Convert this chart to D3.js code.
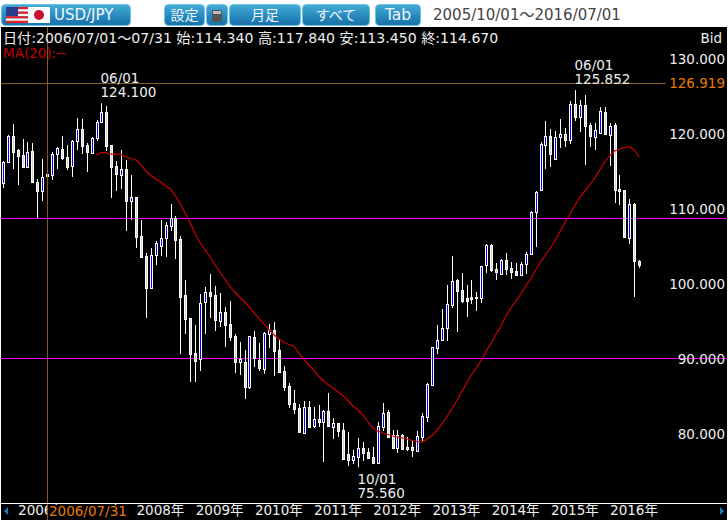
<!DOCTYPE html>
<html>
<head>
<meta charset="utf-8">
<script src="https://d3js.org/d3.v7.min.js"></script>
<style>
    body { margin: 0; background: #fff; }
    text { font-family: "DejaVu Sans", "Noto Sans CJK JP", sans-serif; }
</style>
</head>
<body>
<svg id="chart"></svg>
<script>
// monthly candles 2005/10 - 2016/07
const opens = [113.47, 116.27, 119.73, 117.87, 117.2, 115.6, 117.73, 113.6, 112.4, 114.34,
    114.53, 117.33, 118.0, 116.93, 115.73, 119.07, 120.67, 118.53, 117.47, 119.47,
    121.6, 122.93, 118.53, 115.73, 114.53, 115.33, 111.07, 111.6, 106.4, 103.73,
    99.47, 103.87, 105.07, 106.13, 107.73, 108.8, 106.0, 98.53, 95.47, 90.8,
    90.0, 97.6, 98.93, 98.53, 95.07, 96.27, 94.67, 93.07, 89.6, 89.6,
    86.27, 92.93, 89.87, 88.67, 93.33, 93.87, 91.2, 88.4, 86.4, 84.13,
    83.47, 80.13, 83.6, 81.07, 82.0, 81.6, 83.07, 80.93, 81.47, 80.53,
    77.33, 76.53, 76.93, 78.13, 77.6, 76.93, 76.13, 80.93, 82.93, 79.87,
    78.13, 79.87, 78.27, 78.27, 77.73, 79.6, 82.27, 86.53, 91.47, 92.53,
    94.13, 97.2, 100.53, 99.2, 98.13, 98.27, 98.27, 98.13, 102.53, 105.2,
    102.0, 101.33, 103.2, 102.13, 101.73, 101.2, 102.67, 104.0, 109.6, 112.53,
    118.53, 119.73, 116.67, 119.6, 120.0, 119.2, 124.0, 122.27, 123.87, 121.2,
    119.6, 120.13, 122.93, 119.87, 121.2, 112.67, 112.53, 106.13, 110.67, 103.07];
const highs = [116.4, 119.87, 121.33, 118.0, 119.33, 118.93, 118.8, 114.0, 116.67, 117.84,
    117.6, 118.27, 119.73, 118.53, 119.2, 122.13, 122.0, 118.8, 119.6, 121.87,
    124.1, 123.73, 118.53, 116.4, 117.87, 116.53, 114.53, 111.6, 108.53, 104.13,
    104.8, 105.73, 108.53, 108.27, 110.67, 109.07, 106.4, 100.53, 95.47, 94.53,
    98.67, 99.6, 101.33, 99.73, 98.8, 96.93, 97.73, 93.33, 92.27, 91.2,
    93.07, 93.73, 92.13, 93.6, 94.67, 94.93, 92.67, 89.07, 86.8, 85.87,
    84.0, 84.4, 84.4, 83.6, 83.87, 83.2, 85.47, 82.13, 81.47, 81.47,
    80.27, 77.87, 79.47, 78.93, 78.13, 78.27, 81.6, 84.13, 83.2, 80.53,
    80.53, 80.0, 79.6, 79.2, 80.4, 82.8, 86.8, 91.6, 94.53, 96.67,
    99.87, 103.73, 100.67, 101.47, 99.87, 100.53, 98.93, 102.4, 105.33, 105.33,
    102.8, 103.33, 104.13, 102.93, 102.8, 102.93, 104.27, 109.73, 112.4, 118.93,
    121.73, 120.67, 120.4, 122.0, 120.8, 124.4, 125.852, 124.53, 125.2, 121.47,
    121.47, 123.6, 123.6, 121.47, 121.47, 114.53, 112.53, 111.33, 110.8, 103.2];
const lows = [112.8, 116.13, 115.33, 113.2, 115.47, 115.47, 113.47, 108.8, 111.07, 113.45,
    113.87, 115.33, 116.53, 115.2, 114.27, 117.87, 117.33, 114.93, 117.47, 119.07,
    121.47, 117.73, 111.47, 112.4, 112.67, 107.07, 108.53, 104.8, 103.47, 95.47,
    99.47, 102.53, 103.73, 103.6, 107.07, 103.33, 90.67, 93.33, 86.93, 86.93,
    88.4, 93.33, 95.47, 93.73, 94.27, 91.6, 92.4, 88.13, 87.87, 84.67,
    86.0, 88.93, 88.4, 88.0, 91.47, 87.73, 88.13, 85.73, 83.47, 82.67,
    80.27, 80.13, 80.8, 80.8, 80.93, 76.27, 80.93, 79.33, 79.6, 76.53,
    75.73, 76.0, 75.56, 76.4, 76.67, 76.0, 76.0, 80.4, 79.6, 78.0,
    77.47, 77.87, 77.73, 76.93, 77.6, 79.07, 81.6, 86.4, 90.67, 92.4,
    92.4, 96.8, 93.6, 97.47, 95.6, 97.33, 96.4, 97.47, 101.47, 101.6,
    100.53, 101.2, 101.2, 100.67, 101.07, 101.07, 101.33, 103.87, 104.93, 112.4,
    115.33, 115.6, 116.67, 118.13, 118.27, 118.67, 121.73, 120.27, 115.87, 118.27,
    117.87, 120.13, 119.87, 115.73, 110.8, 110.53, 106.13, 105.33, 98.27, 102.13];
const closes = [116.27, 119.73, 117.6, 117.07, 115.6, 117.6, 113.6, 112.4, 114.27, 114.67,
    117.33, 118.13, 116.8, 115.6, 119.07, 120.67, 118.4, 117.6, 119.47, 121.6,
    122.93, 118.4, 115.6, 114.67, 115.33, 111.07, 111.6, 106.27, 103.6, 99.47,
    103.87, 105.47, 106.13, 107.87, 108.8, 105.87, 98.27, 95.33, 90.67, 89.73,
    97.47, 98.93, 98.4, 95.2, 96.27, 94.53, 92.93, 89.6, 90.0, 86.27,
    93.07, 90.13, 88.8, 93.47, 93.87, 91.07, 88.27, 86.27, 84.0, 83.33,
    80.27, 83.6, 80.93, 82.0, 81.6, 83.07, 81.07, 81.47, 80.4, 76.67,
    76.53, 77.07, 78.13, 77.47, 76.8, 76.13, 81.07, 82.8, 79.6, 78.13,
    79.87, 78.0, 78.0, 77.87, 79.73, 82.4, 86.67, 91.6, 92.53, 94.13,
    97.33, 100.4, 99.07, 97.73, 97.73, 97.97, 98.13, 102.4, 105.2, 101.87,
    101.6, 103.2, 102.0, 101.6, 101.2, 102.67, 104.0, 109.6, 112.27, 118.67,
    119.73, 117.33, 119.6, 120.0, 119.2, 124.0, 122.27, 123.87, 121.07, 119.73,
    120.53, 123.07, 120.0, 121.07, 112.53, 112.4, 106.27, 110.67, 103.07, 102.53];
// MA(20) starts at the 20th candle
const maStart = 19;
const ma20 = [117.2, 117.53, 117.47, 117.33, 117.33, 117.27, 116.93, 116.73, 116.53, 115.87,
    115.07, 114.47, 114.0, 113.6, 113.07, 112.67, 111.73, 110.67, 109.4, 108.13,
    106.67, 105.47, 104.53, 103.6, 102.53, 101.6, 100.67, 99.73, 98.93, 98.27,
    97.6, 96.93, 96.13, 95.33, 94.67, 93.87, 93.2, 92.67, 92.2, 91.93,
    91.73, 90.8, 90.0, 89.2, 88.53, 87.73, 87.07, 86.53, 86.07, 85.6,
    85.07, 84.4, 83.73, 83.2, 82.53, 81.6, 80.8, 80.4, 80.13, 79.93,
    79.73, 79.6, 79.47, 79.33, 79.13, 79.0, 78.93, 79.33, 79.8, 80.47,
    81.33, 82.27, 83.33, 84.4, 85.6, 86.8, 87.87, 88.8, 89.87, 91.07,
    92.13, 93.33, 94.4, 95.73, 96.8, 97.73, 98.67, 99.73, 100.67, 101.87,
    102.93, 103.87, 104.8, 105.87, 107.07, 108.27, 109.33, 110.53, 111.6, 112.4,
    113.2, 114.13, 115.2, 116.27, 117.07, 117.73, 118.0, 118.2, 118.27, 117.87, 116.93];
const yTicks = [130, 120, 110, 100, 90, 80];
const years = [2006, 2007, 2008, 2009, 2010, 2011, 2012, 2013, 2014, 2015, 2016];
const alertLines = [108.8, 90.13];
const crossIndex = 9, crossPrice = 126.919;
const peaks = [
    { i: 20, date: "06/01", price: 124.1, up: true },
    { i: 116, date: "06/01", price: 125.852, up: true },
    { i: 72, date: "10/01", price: 75.56, up: false }
];
const buttons = [
    { x: 164, w: 41, label: "設定", size: 14 },
    { x: 206, w: 22, label: "", size: 14 },
    { x: 229, w: 72, label: "月足", size: 14 },
    { x: 302, w: 68, label: "すべて", size: 14 },
    { x: 375, w: 46, label: "Tab", size: 15.5 }
];

const width = 728, height = 520;
const svg = d3.select("#chart").attr("width", width).attr("height", height).style("display", "block");

const x = d3.scaleLinear().domain([0, 129]).range([2.8, 639.2]);
const y = d3.scaleLinear().domain([80, 130]).range([434, 59]);
const px = i => Math.round(x(i)) + 0.5;
const py = v => Math.round(y(v)) + 0.5;

// header buttons
const grad = svg.append("defs").append("linearGradient").attr("id", "btn")
    .attr("x1", 0).attr("y1", 0).attr("x2", 0).attr("y2", 1);
grad.append("stop").attr("offset", "0%").attr("stop-color", "#45aed8");
grad.append("stop").attr("offset", "50%").attr("stop-color", "#2a8cc0");
grad.append("stop").attr("offset", "100%").attr("stop-color", "#1670a8");

function button(bx, bw) {
    svg.append("rect").attr("x", bx + 0.5).attr("y", 4.5).attr("width", bw - 1).attr("height", 21).attr("rx", 4)
        .attr("fill", "url(#btn)").attr("stroke", "#6fc2e2");
}
button(1, 130);
buttons.forEach(b => {
    button(b.x, b.w);
    svg.append("text").attr("x", b.x + b.w / 2).attr("y", 20).attr("text-anchor", "middle")
        .attr("fill", "#f0f6fa").attr("font-size", b.size).text(b.label);
});
svg.append("rect").attr("x", 212).attr("y", 10).attr("width", 10).attr("height", 12).attr("rx", 2).attr("fill", "#555");
svg.append("rect").attr("x", 213).attr("y", 11).attr("width", 8).attr("height", 3).attr("fill", "#bbb");
svg.append("text").attr("x", 54).attr("y", 20).attr("fill", "#f0f6fa").attr("font-size", 15).text("USD/JPY");
svg.append("text").attr("x", 433).attr("y", 20).attr("fill", "#444").attr("font-size", 15).text("2005/10/01～2016/07/01");

// flags
const stripes = d3.range(7);
svg.selectAll(".stripe").data(stripes).enter().append("rect").attr("class", "stripe")
    .attr("x", 6).attr("y", d => 7 + d * 2.3).attr("width", 22).attr("height", 2.3)
    .attr("fill", (d, i) => i % 2 === 0 ? "#e0202a" : "#fff");
svg.append("rect").attr("x", 6).attr("y", 7).attr("width", 12).attr("height", 9).attr("fill", "#2c3a8c");
svg.append("rect").attr("x", 28).attr("y", 7).attr("width", 22).attr("height", 16).attr("fill", "#fff");
svg.append("circle").attr("cx", 39).attr("cy", 15).attr("r", 5).attr("fill", "#c8102e");

// chart area
svg.append("rect").attr("x", 1).attr("y", 27).attr("width", 726).attr("height", 493).attr("fill", "#000");

// alert lines
svg.selectAll(".alert").data(alertLines).enter().append("line").attr("class", "alert")
    .attr("x1", 1).attr("x2", 727).attr("y1", d => py(d)).attr("y2", d => py(d))
    .attr("stroke", "#ff00ff");

// candles
const idx = d3.range(opens.length);
svg.selectAll(".wick").data(idx).enter().append("line").attr("class", "wick")
    .attr("x1", px).attr("x2", px)
    .attr("y1", i => y(highs[i])).attr("y2", i => y(lows[i]))
    .attr("stroke", "#fff");
svg.selectAll(".body").data(idx).enter().append("rect").attr("class", "body")
    .attr("x", i => px(i) - 1).attr("width", 2)
    .attr("y", i => py(Math.max(opens[i], closes[i])))
    .attr("height", i => Math.max(1, py(Math.min(opens[i], closes[i])) - py(Math.max(opens[i], closes[i]))))
    .attr("fill", i => closes[i] >= opens[i] ? "#0000ff" : "#d4d4d4")
    .attr("stroke", "#fff");

// moving average
const maLine = d3.line().x((d, i) => x(i + maStart)).y(d => y(d));
svg.append("path").attr("d", maLine(ma20)).attr("fill", "none").attr("stroke", "#d00000").attr("stroke-width", 1.2);

// crosshair
const crossColor = "#8a5a20";
svg.append("line").attr("x1", px(crossIndex)).attr("x2", px(crossIndex)).attr("y1", 27).attr("y2", 520).attr("stroke", crossColor);
svg.append("line").attr("x1", 1).attr("x2", 666).attr("y1", 83.5).attr("y2", 83.5).attr("stroke", crossColor);

// y axis
const yAxis = d3.axisRight(y).tickValues(yTicks).tickFormat(d3.format(".3f")).tickSize(0).tickPadding(0);
const gy = svg.append("g").attr("transform", "translate(725,0)").call(yAxis);
gy.select(".domain").remove();
gy.selectAll("text").attr("text-anchor", "end").attr("fill", "#eee").attr("font-size", 13.5);

// x axis
const jan = yr => (yr - 2005) * 12 - 9;
const xAxis = d3.axisBottom(x).tickValues(years.map(jan)).tickFormat(d => (d + 9) / 12 + 2005 + "年").tickSize(0).tickPadding(0);
svg.append("rect").attr("x", 1).attr("y", 503).attr("width", 726).attr("height", 1).attr("fill", "#fff");
const gx = svg.append("g").attr("transform", "translate(0,505)").call(xAxis);
gx.select(".domain").remove();
gx.selectAll("text").attr("text-anchor", "start").attr("fill", "#eee").attr("font-size", 13.5);

svg.append("path").attr("d", "M4,511 L8,507 L8,515 Z").attr("fill", "#1a80b8");
svg.append("path").attr("d", "M724,511 L720,507 L720,515 Z").attr("fill", "#1a80b8");

// crosshair labels
svg.append("rect").attr("x", px(crossIndex)).attr("y", 505).attr("width", 84).attr("height", 15).attr("fill", "#000");
svg.append("line").attr("x1", px(crossIndex)).attr("x2", px(crossIndex)).attr("y1", 504).attr("y2", 520).attr("stroke", crossColor);
svg.append("text").attr("x", 49).attr("y", 516).attr("fill", "#e87a00").attr("font-size", 13.5).text("2006/07/31");
svg.append("text").attr("x", 725).attr("y", 88).attr("text-anchor", "end").attr("fill", "#e87a00").attr("font-size", 13.5)
    .text(d3.format(".3f")(crossPrice));

// hi / lo notes
peaks.forEach(p => {
    const top = y(p.price);
    svg.append("text").attr("x", px(p.i) - 1).attr("y", p.up ? top - 20 : top + 17)
        .attr("fill", "#eee").attr("font-size", 13.5).text(p.date);
    svg.append("text").attr("x", px(p.i) - 1).attr("y", p.up ? top - 6 : top + 31)
        .attr("fill", "#eee").attr("font-size", 13.5).text(d3.format(".3f")(p.price));
});

// info lines
svg.append("text").attr("x", 3).attr("y", 43).attr("fill", "#eee").attr("font-size", 14.1)
    .text("日付:2006/07/01～07/31 始:114.340 高:117.840 安:113.450 終:114.670");
svg.append("text").attr("x", 3).attr("y", 58).attr("fill", "#c00000").attr("font-size", 13.5).text("MA(20):--");
svg.append("text").attr("x", 722).attr("y", 43).attr("text-anchor", "end").attr("fill", "#eee").attr("font-size", 13.5).text("Bid");
</script>
</body>
</html>
